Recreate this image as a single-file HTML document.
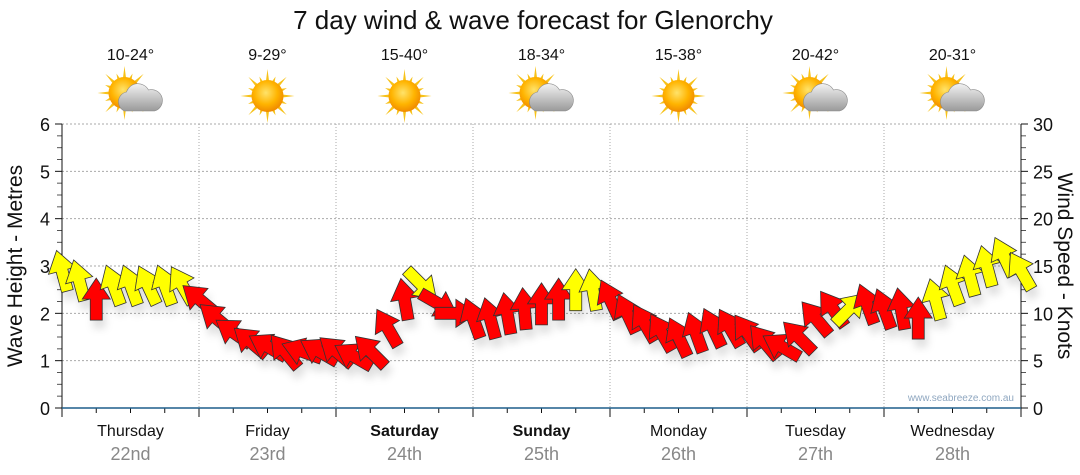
<!DOCTYPE html>
<html><head><meta charset="utf-8"><style>
html,body{margin:0;padding:0;background:#fff;}
svg{display:block;font-family:"Liberation Sans","DejaVu Sans",sans-serif;}
</style></head><body>
<svg id="chart" width="1080" height="475" viewBox="0 0 1080 475">
<defs>
<radialGradient id="sunG" cx="45%" cy="40%" r="60%"><stop offset="0" stop-color="#ffe36a"/><stop offset="0.6" stop-color="#ffb400"/><stop offset="1" stop-color="#f08a00"/></radialGradient>
<linearGradient id="cloudG" x1="0" y1="0" x2="0" y2="1"><stop offset="0" stop-color="#f2f2f2"/><stop offset="1" stop-color="#9a9a9a"/></linearGradient>
<filter id="shadow" x="-50%" y="-50%" width="200%" height="200%"><feDropShadow dx="3" dy="8" stdDeviation="4" flood-color="#000" flood-opacity="0.12"/></filter>
</defs>
<text x="533" y="29" text-anchor="middle" font-size="26" fill="#111">7 day wind &amp; wave forecast for Glenorchy</text>
<g id="grid"></g>
<g id="axes"></g>
<g id="icons"></g>
<g id="arrows" filter="url(#shadow)"></g>
<text x="1014" y="401" text-anchor="end" font-size="10" fill="#8fa7c0">www.seabreeze.com.au</text>
<text transform="translate(22,266) rotate(-90)" text-anchor="middle" font-size="21" fill="#111">Wave Height - Metres</text>
<text transform="translate(1058,266) rotate(90)" text-anchor="middle" font-size="21" fill="#111">Wind Speed - Knots</text>
</svg>
<script>
const days = ["Thursday","Friday","Saturday","Sunday","Monday","Tuesday","Wednesday"];
const dates = ["22nd","23rd","24th","25th","26th","27th","28th"];
const boldDays = [false,false,true,true,false,false,false];
const temps = ["10-24°","9-29°","15-40°","18-34°","15-38°","20-42°","20-31°"];
const cloudy = [true,false,false,true,false,true,true];
const waveTicks = [0,1,2,3,4,5,6];
const windTicks = [0,5,10,15,20,25,30];
const windSpeed = [14.5,13.5,11.5,13,13,13,13,13,11.5,9.5,8,7,6.5,6,6,6,6,5.5,6,8.5,11.5,13,11,10,9.5,9.5,10,10.5,11,11.5,12.5,12.5,11.5,10,9,8,7.5,8,8.5,8.5,8,7,6.5,7.5,9.5,10.5,10.5,11,10.5,10.5,9.5,11.5,13,14,15,16,14.5];
const windDir = [-15,-15,0,-20,-20,-25,-20,-30,-50,-50,-55,-50,-60,-40,-70,-60,-50,-60,-45,-30,-10,135,120,90,-20,-15,-10,-5,0,0,0,-10,-25,-25,-30,-30,-25,-20,-25,-30,-35,-40,-60,-45,-40,-35,45,-20,-20,-10,0,-15,-20,-15,-15,-25,-30];
const windColor = ["y","y","r","y","y","y","y","y","r","r","r","r","r","r","r","r","r","r","r","r","r","y","r","r","r","r","r","r","r","r","y","y","r","r","r","r","r","r","r","r","r","r","r","r","r","r","y","r","r","r","r","y","y","y","y","y","y"];

const NS="http://www.w3.org/2000/svg";
const X0=62, X1=1021, Y0=408, Y1=124;
const dayW=(X1-X0)/7;
const xHour=h=>X0+h/168*(X1-X0);
const yWave=v=>Y0-v/6*(Y0-Y1);
const yWind=v=>Y0-v/30*(Y0-Y1);
function el(tag,attrs,parent){const e=document.createElementNS(NS,tag);for(const k in attrs)e.setAttribute(k,attrs[k]);parent.appendChild(e);return e;}
const grid=document.getElementById('grid'),axes=document.getElementById('axes'),icons=document.getElementById('icons'),arrows=document.getElementById('arrows');

waveTicks.forEach((t,i)=>{
  const y=yWave(t);
  if(t>0){const g=el('line',{x1:X0,x2:X1,y1:y,y2:y,stroke:'#aaa','stroke-dasharray':'2,2'},grid);
  
  }
  const tl=el('text',{x:X0-12,y:y+7,'text-anchor':'end','font-size':18,fill:'#111'},axes);tl.textContent=t;
  
  
  el('line',{x1:X0-7,x2:X0,y1:y,y2:y,stroke:'#111'},axes);
  const tr=el('text',{x:X1+12,y:y+7,'text-anchor':'start','font-size':18,fill:'#111'},axes);tr.textContent=windTicks[i];
  
  
  el('line',{x1:X1,x2:X1+7,y1:y,y2:y,stroke:'#111'},axes);
});
for(let m=0.25;m<6;m+=0.25){if(Math.abs(m-Math.round(m))<0.01)continue;const y=yWave(m);
  el('line',{x1:X0-5,x2:X0,y1:y,y2:y,stroke:'#555'},axes);
  el('line',{x1:X1,x2:X1+5,y1:y,y2:y,stroke:'#555'},axes);}
el('line',{x1:X0,x2:X0,y1:Y1,y2:Y0,stroke:'#111'},axes);
el('line',{x1:X1,x2:X1,y1:Y1,y2:Y0,stroke:'#111'},axes);
for(let d=1;d<7;d++){const x=X0+d*dayW;const g=el('line',{x1:x,x2:x,y1:Y1,y2:Y0,stroke:'#aaa','stroke-dasharray':'1,2'},grid);
  
  }
for(let h=0;h<=168;h+=6){const x=xHour(h);const major=h%24===0;
  el('line',{x1:x,x2:x,y1:Y0,y2:Y0+(major?9:5),stroke:'#111'},axes);}
el('line',{x1:X0,x2:X1,y1:Y0,y2:Y0,stroke:'#1f5f8b','stroke-width':1.5},axes);

days.forEach((d,i)=>{
  const cx=X0+(i+0.5)*dayW;
  const t=el('text',{x:cx,y:436,'text-anchor':'middle','font-size':16,fill:'#111','font-weight':boldDays[i]?'bold':'normal'},axes);t.textContent=d;
  
  
  const dt=el('text',{x:cx,y:460,'text-anchor':'middle','font-size':18,fill:'#888'},axes);dt.textContent=dates[i];
  
  
  const tp=el('text',{x:cx,y:60,'text-anchor':'middle','font-size':16,fill:'#111'},icons);tp.textContent=temps[i];
  
  
  const g=el('g',{transform:`translate(${cx},96)`},icons);
  
  
  const sx=cloudy[i]?-6:0, sy=cloudy[i]?-3:0;
  for(let k=0;k<16;k++){const a=k*Math.PI/8;const L=k%2?21:27;
    el('polygon',{points:`${sx+Math.cos(a-0.12)*14},${sy+Math.sin(a-0.12)*14} ${sx+Math.cos(a)*L},${sy+Math.sin(a)*L} ${sx+Math.cos(a+0.12)*14},${sy+Math.sin(a+0.12)*14}`,fill:'#f7c21a'},g);}
  el('circle',{cx:sx,cy:sy,r:16,fill:'url(#sunG)'},g);
  if(cloudy[i]){
    el('path',{d:'M-6,15 a10,10 0 0 1 2,-19 a12,12 0 0 1 22,-2 a10,10 0 0 1 6,21 z',fill:'url(#cloudG)',stroke:'#8a8a8a','stroke-width':0.6},g);
  }
});

windSpeed.forEach((v,i)=>{
  const x=xHour(i*3), y=yWind(v);
  const fill=windColor[i]==='y'?'#ffff00':'#ff0000';
  const p=el('polygon',{points:'-6,21 6,21 6,0 14,0 0,-21 -14,0 -6,0',fill:fill,stroke:'#333','stroke-width':0.8,transform:`translate(${x},${y}) rotate(${windDir[i]})`},arrows);
  
  
});
</script>
</body></html>
